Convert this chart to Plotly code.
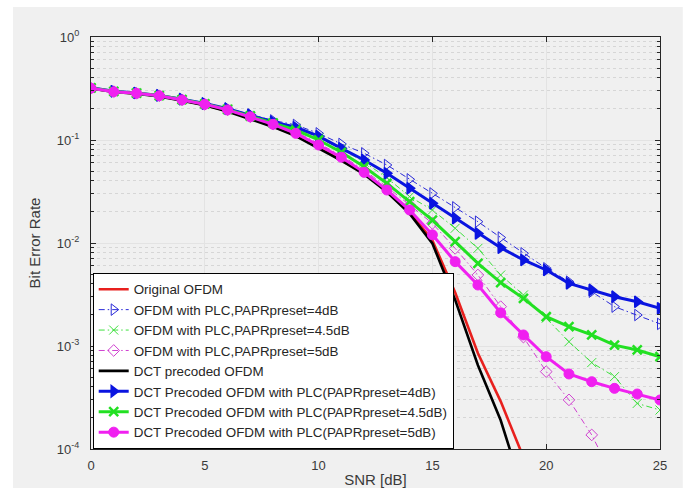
import plotly.graph_objects as go

# ---------------- data ----------------
snr = list(range(26))

ber_original = [0.318, 0.295, 0.283, 0.267, 0.243, 0.219, 0.191, 0.163, 0.136, 0.111,
                0.085, 0.064, 0.0478, 0.0322, 0.0199, 0.0106, 0.0033, 8.5e-4, 2.9e-4, 8.3e-5]
ber_plc4 = [0.322, 0.298, 0.287, 0.272, 0.250, 0.227, 0.203, 0.177, 0.155, 0.140,
            0.116, 0.0915, 0.0743, 0.0572, 0.0415, 0.0303, 0.0222, 0.0161, 0.0113, 0.00794,
            0.00568, 0.00421, 0.00337, 0.00241, 0.00200, 0.00164]
ber_plc45 = [0.320, 0.296, 0.285, 0.270, 0.247, 0.224, 0.199, 0.172, 0.148, 0.130,
             0.105, 0.082, 0.061, 0.043, 0.0282, 0.0209, 0.0139, 0.00887, 0.00489, 0.00313,
             0.00186, 0.00110, 6.9e-4, 5.04e-4, 2.77e-4, 2.39e-4]
ber_plc5 = [0.319, 0.295, 0.284, 0.269, 0.245, 0.222, 0.196, 0.168, 0.143, 0.120,
            0.093, 0.071, 0.051, 0.035, 0.0234, 0.0155, 0.00887, 0.00489, 0.00241, 0.00122,
            5.64e-4, 3.0e-4, 1.37e-4, 5.0e-5]
ber_dct = [0.316, 0.293, 0.281, 0.265, 0.241, 0.217, 0.189, 0.160, 0.134, 0.109,
           0.083, 0.063, 0.0465, 0.0312, 0.0193, 0.0099, 0.0028, 6.5e-4, 1.9e-4, 3.8e-5]
ber_dct_plc4 = [0.321, 0.297, 0.286, 0.271, 0.249, 0.226, 0.201, 0.175, 0.150, 0.133,
                0.109, 0.083, 0.064, 0.0475, 0.034, 0.0243, 0.0174, 0.0124, 0.0090, 0.00684,
                0.00547, 0.00406, 0.00350, 0.00301, 0.00269, 0.00232]
ber_dct_plc45 = [0.320, 0.296, 0.285, 0.270, 0.247, 0.224, 0.198, 0.171, 0.146, 0.125,
                 0.100, 0.076, 0.055, 0.0379, 0.0252, 0.0167, 0.0103, 0.00635, 0.00413, 0.0029,
                 0.00193, 0.00154, 0.00128, 0.00102, 9.15e-4, 7.87e-4]
ber_dct_plc5 = [0.318, 0.294, 0.284, 0.269, 0.245, 0.222, 0.196, 0.168, 0.142, 0.116,
                0.0894, 0.068, 0.0485, 0.0327, 0.0209, 0.0120, 0.00659, 0.00391, 0.0021, 0.00128,
                7.87e-4, 5.35e-4, 4.5e-4, 3.88e-4, 3.42e-4, 2.99e-4]

names = ["Original OFDM",
         "OFDM with PLC,PAPRpreset=4dB",
         "OFDM with PLC,PAPRpreset=4.5dB",
         "OFDM with PLC,PAPRpreset=5dB",
         "DCT precoded OFDM",
         "DCT Precoded OFDM with PLC(PAPRpreset=4dB)",
         "DCT Precoded OFDM with PLC(PAPRpreset=4.5dB)",
         "DCT Precoded OFDM with PLC(PAPRpreset=5dB)"]

y_ticks = [1e-4, 1e-3, 1e-2, 1e-1, 1]
y_ticktext = ["10<sup>-4</sup>", "10<sup>-3</sup>", "10<sup>-2</sup>", "10<sup>-1</sup>", "10<sup>0</sup>"]
x_ticks = [0, 5, 10, 15, 20, 25]

# ---------------- figure ----------------
FONT = "Liberation Sans, Arial, sans-serif"
DASHDOT = "6px,3px,1.5px,3px"
fig = go.Figure()


def add(y, name, color, width, dash=None, symbol=None, msize=8, mline=1):
    mode = "lines" if symbol is None else "lines+markers"
    fig.add_trace(go.Scatter(
        x=snr[:len(y)], y=y, name=name, mode=mode,
        line=dict(color=color, width=width, dash=dash),
        marker=dict(symbol=symbol, size=msize, color=color,
                    line=dict(color=color, width=mline)) if symbol else None,
    ))


add(ber_original, names[0], "#e8201e", 2.6)
add(ber_plc4, names[1], "#2a2ad8", 1, DASHDOT, "triangle-right-open", 10, 1)
add(ber_plc45, names[2], "#3de03d", 1, DASHDOT, "x-thin-open", 9, 1)
add(ber_plc5, names[3], "#d040d0", 1, DASHDOT, "diamond-open", 9, 1)
add(ber_dct, names[4], "#000000", 2.6)
add(ber_dct_plc4, names[5], "#0a14e0", 3, None, "triangle-right", 10, 1.5)
add(ber_dct_plc45, names[6], "#22e022", 3, None, "x-thin", 9, 2.5)
add(ber_dct_plc5, names[7], "#f020f0", 3, None, "circle", 10, 1)

minor_vals = [m * 10 ** e for e in range(-4, 0) for m in range(2, 10)]

axis_common = dict(
    showline=True, linecolor="#262626", linewidth=1, mirror="ticks",
    ticks="inside", ticklen=5, tickcolor="#262626", automargin=False,
    showgrid=True, gridcolor="#e3e3e3", gridwidth=1, zeroline=False,
    tickfont=dict(family=FONT, size=13, color="#3a3a3a"),
)

fig.update_layout(
    width=693, height=488,
    margin=dict(l=91, r=33, t=37, b=39),
    paper_bgcolor="white", plot_bgcolor="white",
    font=dict(family=FONT, size=13, color="#262626"),
    xaxis=dict(range=[0, 25], tickvals=x_ticks, ticklabelstandoff=4,
               title=dict(text="SNR [dB]", font=dict(size=15, color="#3a3a3a"), standoff=6),
               **axis_common),
    yaxis=dict(type="log", range=[-4, 0], tickvals=y_ticks, ticktext=y_ticktext,
               ticklabelstandoff=8,
               title=dict(text="Bit Error Rate", font=dict(size=15, color="#3a3a3a"), standoff=12),
               minor=dict(tickvals=minor_vals, ticks="inside", ticklen=3, tickcolor="#262626",
                          showgrid=True, gridcolor="#d6d6d6", griddash="dot", gridwidth=1),
               **axis_common),
    legend=dict(x=0.003, y=0.0, xanchor="left", yanchor="bottom",
                bgcolor="white", bordercolor="#000000", borderwidth=1,
                font=dict(family=FONT, size=13.4, color="#262626"),
                tracegroupgap=0, itemwidth=30),
    showlegend=True,
    shapes=[dict(type="rect", xref="paper", yref="paper", x0=-0.137, x1=1.040,
                 y0=-0.2, y1=1.073, fillcolor="#f0f0f0", line=dict(width=0), layer="below")],
)

fig.write_html("out.html")
